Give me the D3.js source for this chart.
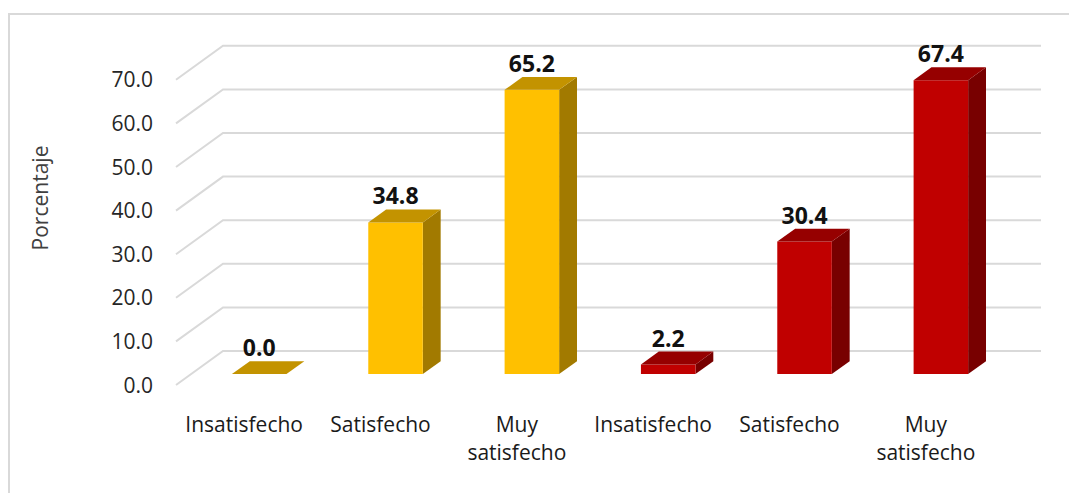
<!DOCTYPE html>
<html>
<head>
<meta charset="utf-8">
<script src="https://cdn.jsdelivr.net/npm/d3@7/dist/d3.min.js"></script>
<style>
  html, body { margin: 0; padding: 0; background: #fff; }
  svg { display: block; }
</style>
</head>
<body>
<svg id="chart" width="1069" height="493"></svg>
<script>
// ---- data ----
const categories = ["Insatisfecho", "Satisfecho", "Muy satisfecho", "Insatisfecho", "Satisfecho", "Muy satisfecho"];
const groupA = [0.0, 34.8, 65.2];   // yellow
const groupB = [2.2, 30.4, 67.4];   // red
const yTicks = [0, 10, 20, 30, 40, 50, 60, 70];
const yTitle = "Porcentaje";

const values = groupA.concat(groupB);
const groupOf = values.map((d, i) => i < groupA.length ? 0 : 1);

const palettes = [
  { front: "#FFC000", top: "#C39300", side: "#A27A00" },
  { front: "#C00000", top: "#960000", side: "#780000" }
];

// ---- layout ----
const W = 1069, H = 493;
const DX = 47, DY = 34;          // depth projection
const zFront = 0.32, zBack = 0.70;

const svg = d3.select("#chart");

// chart border (open to the right and bottom like the reference crop)
svg.append("path")
  .attr("d", `M9,${H} L9,14 L${W},14`)
  .attr("fill", "none")
  .attr("stroke", "#d9d9d9")
  .attr("stroke-width", 2);

const x = d3.scaleBand()
  .domain(d3.range(categories.length))
  .range([176, 994])
  .paddingInner(0).paddingOuter(0);

const y = d3.scaleLinear()
  .domain([0, 70])
  .range([385, 79.8]);

const P = (xu, v, z) => [xu + z * DX, y(v) - z * DY];
const poly = pts => "M" + pts.map(p => p.join(",")).join("L") + "Z";

// gridlines (left wall diagonal + back wall)
const grid = svg.append("g");
yTicks.forEach(t => {
  const a = P(x.range()[0], t, 0), b = P(x.range()[0], t, 1), c = P(x.range()[1], t, 1);
  grid.append("path")
    .attr("d", `M${a}L${b}L${c}`)
    .attr("fill", "none")
    .attr("stroke", "#d9d9d9")
    .attr("stroke-width", 2);
});

// y tick labels
svg.append("g").selectAll("text")
  .data(yTicks).join("text")
  .attr("x", 153)
  .attr("y", d => y(d))
  .attr("dy", "0.36em")
  .attr("text-anchor", "end")
  .attr("font-family", "Open Sans")
  .attr("font-size", 21)
  .attr("fill", "#262626")
  .text(d => d3.format(".1f")(d));

// y axis title
svg.append("text")
  .attr("transform", "translate(48,198) rotate(-90)")
  .attr("text-anchor", "middle")
  .attr("font-family", "Open Sans")
  .attr("font-size", 21)
  .attr("fill", "#404040")
  .text(yTitle);

// bars
const bw = x.bandwidth();
const bars = svg.append("g");
values.forEach((v, i) => {
  const pal = palettes[groupOf[i]];
  const x0 = x(i) + 0.30 * bw, x1 = x(i) + 0.70 * bw;
  const g = bars.append("g");
  // side
  g.append("path").attr("fill", pal.side)
    .attr("d", poly([P(x1, 0, zFront), P(x1, 0, zBack), P(x1, v, zBack), P(x1, v, zFront)]));
  // front
  g.append("path").attr("fill", pal.front)
    .attr("d", poly([P(x0, 0, zFront), P(x1, 0, zFront), P(x1, v, zFront), P(x0, v, zFront)]));
  // top
  g.append("path").attr("fill", pal.top)
    .attr("d", poly([P(x0, v, zFront), P(x1, v, zFront), P(x1, v, zBack), P(x0, v, zBack)]));
  // value label
  const ft = P((x0 + x1) / 2, v, zFront);
  svg.append("text")
    .attr("x", ft[0])
    .attr("y", ft[1] - 18)
    .attr("text-anchor", "middle")
    .attr("font-family", "Open Sans")
    .attr("font-weight", "bold")
    .attr("font-size", 23)
    .attr("fill", "#111")
    .text(d3.format(".1f")(v));
});

// category labels with wrapping
const catG = svg.append("g");
categories.forEach((c, i) => {
  const t = catG.append("text")
    .attr("x", x(i) + bw / 2)
    .attr("y", 432)
    .attr("text-anchor", "middle")
    .attr("font-family", "Open Sans")
    .attr("font-size", 21)
    .attr("fill", "#1a1a1a");
  t.text(c);
  if (t.node().getComputedTextLength() > bw * 0.95) {
    const words = c.split(" ");
    t.text(null);
    words.forEach((w, k) => {
      t.append("tspan")
        .attr("x", x(i) + bw / 2)
        .attr("dy", k === 0 ? 0 : 28)
        .text(w);
    });
  }
});
</script>
</body>
</html>
